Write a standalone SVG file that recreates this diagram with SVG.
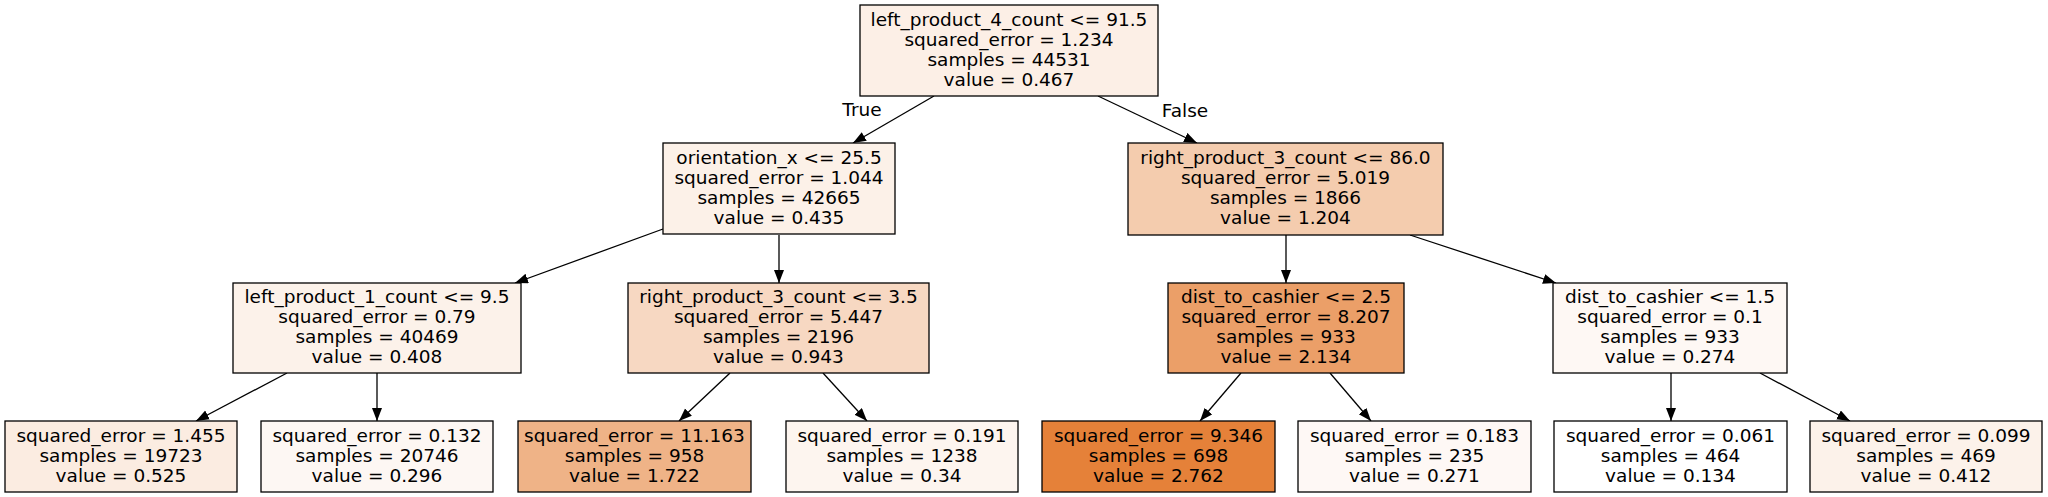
<svg xmlns="http://www.w3.org/2000/svg" width="2048" height="497" viewBox="0 0 2048 497">
<style>
.box{stroke:#000;stroke-width:1.3}
text{font-family:"DejaVu Sans","Liberation Sans",sans-serif;font-size:18.5px;fill:#000;text-anchor:middle}
.edge{stroke:#000;stroke-width:1.3;fill:none;marker-end:url(#ah)}
</style>
<defs>
<marker id="ah" markerUnits="userSpaceOnUse" markerWidth="14" markerHeight="11" refX="13" refY="5" orient="auto">
<path d="M0,0 L13,5 L0,10 z" fill="#000"/>
</marker>
</defs>
<rect width="2048" height="497" fill="#fff"/>
<g id="connectors">
<line class="edge" x1="934" y1="96" x2="853" y2="143"/>
<line class="edge" x1="1098" y1="96" x2="1197" y2="143"/>
<line class="edge" x1="663" y1="229" x2="515" y2="283"/>
<line class="edge" x1="779" y1="235" x2="779" y2="283"/>
<line class="edge" x1="1286" y1="235" x2="1286" y2="283"/>
<line class="edge" x1="1410" y1="235" x2="1556" y2="283"/>
<line class="edge" x1="287" y1="373" x2="196" y2="421"/>
<line class="edge" x1="377" y1="373" x2="377" y2="421"/>
<line class="edge" x1="730" y1="373" x2="679" y2="421"/>
<line class="edge" x1="823" y1="373" x2="867" y2="421"/>
<line class="edge" x1="1241" y1="373" x2="1200" y2="421"/>
<line class="edge" x1="1330" y1="373" x2="1371" y2="421"/>
<line class="edge" x1="1671" y1="373" x2="1671" y2="421"/>
<line class="edge" x1="1760" y1="373" x2="1850" y2="421"/>
<text x="862" y="116">True</text>
<text x="1185" y="117">False</text>
</g>
<g id="n0"><rect class="box" x="860" y="5" width="298" height="91" fill="#fcefe6"/>
<text x="1009" y="26">left_product_4_count &lt;= 91.5</text><text x="1009" y="46">squared_error = 1.234</text><text x="1009" y="66">samples = 44531</text><text x="1009" y="86">value = 0.467</text></g>
<g id="n1"><rect class="box" x="663" y="143" width="232" height="91" fill="#fcf1e8"/>
<text x="779" y="164">orientation_x &lt;= 25.5</text><text x="779" y="184">squared_error = 1.044</text><text x="779" y="204">samples = 42665</text><text x="779" y="224">value = 0.435</text></g>
<g id="n8"><rect class="box" x="1128" y="143" width="315" height="92" fill="#f4ccae"/>
<text x="1285.5" y="164">right_product_3_count &lt;= 86.0</text><text x="1285.5" y="184">squared_error = 5.019</text><text x="1285.5" y="204">samples = 1866</text><text x="1285.5" y="224">value = 1.204</text></g>
<g id="n2"><rect class="box" x="233" y="283" width="288" height="90" fill="#fcf2ea"/>
<text x="377" y="303">left_product_1_count &lt;= 9.5</text><text x="377" y="323">squared_error = 0.79</text><text x="377" y="343">samples = 40469</text><text x="377" y="363">value = 0.408</text></g>
<g id="n5"><rect class="box" x="628" y="283" width="301" height="90" fill="#f7d8c2"/>
<text x="778.5" y="303">right_product_3_count &lt;= 3.5</text><text x="778.5" y="323">squared_error = 5.447</text><text x="778.5" y="343">samples = 2196</text><text x="778.5" y="363">value = 0.943</text></g>
<g id="n9"><rect class="box" x="1168" y="283" width="236" height="90" fill="#eb9f68"/>
<text x="1286" y="303">dist_to_cashier &lt;= 2.5</text><text x="1286" y="323">squared_error = 8.207</text><text x="1286" y="343">samples = 933</text><text x="1286" y="363">value = 2.134</text></g>
<g id="n12"><rect class="box" x="1553" y="283" width="234" height="90" fill="#fef8f4"/>
<text x="1670" y="303">dist_to_cashier &lt;= 1.5</text><text x="1670" y="323">squared_error = 0.1</text><text x="1670" y="343">samples = 933</text><text x="1670" y="363">value = 0.274</text></g>
<g id="n3"><rect class="box" x="5" y="421" width="232" height="71" fill="#fbece1"/>
<text x="121" y="442">squared_error = 1.455</text><text x="121" y="462">samples = 19723</text><text x="121" y="482">value = 0.525</text></g>
<g id="n4"><rect class="box" x="261" y="421" width="232" height="71" fill="#fdf7f3"/>
<text x="377" y="442">squared_error = 0.132</text><text x="377" y="462">samples = 20746</text><text x="377" y="482">value = 0.296</text></g>
<g id="n6"><rect class="box" x="518" y="421" width="233" height="71" fill="#efb387"/>
<text x="634.5" y="442">squared_error = 11.163</text><text x="634.5" y="462">samples = 958</text><text x="634.5" y="482">value = 1.722</text></g>
<g id="n7"><rect class="box" x="786" y="421" width="232" height="71" fill="#fdf5ef"/>
<text x="902" y="442">squared_error = 0.191</text><text x="902" y="462">samples = 1238</text><text x="902" y="482">value = 0.34</text></g>
<g id="n10"><rect class="box" x="1042" y="421" width="233" height="71" fill="#e58139"/>
<text x="1158.5" y="442">squared_error = 9.346</text><text x="1158.5" y="462">samples = 698</text><text x="1158.5" y="482">value = 2.762</text></g>
<g id="n11"><rect class="box" x="1298" y="421" width="233" height="71" fill="#fef8f5"/>
<text x="1414.5" y="442">squared_error = 0.183</text><text x="1414.5" y="462">samples = 235</text><text x="1414.5" y="482">value = 0.271</text></g>
<g id="n13"><rect class="box" x="1554" y="421" width="233" height="71" fill="#ffffff"/>
<text x="1670.5" y="442">squared_error = 0.061</text><text x="1670.5" y="462">samples = 464</text><text x="1670.5" y="482">value = 0.134</text></g>
<g id="n14"><rect class="box" x="1810" y="421" width="232" height="71" fill="#fcf2ea"/>
<text x="1926" y="442">squared_error = 0.099</text><text x="1926" y="462">samples = 469</text><text x="1926" y="482">value = 0.412</text></g>
</svg>
